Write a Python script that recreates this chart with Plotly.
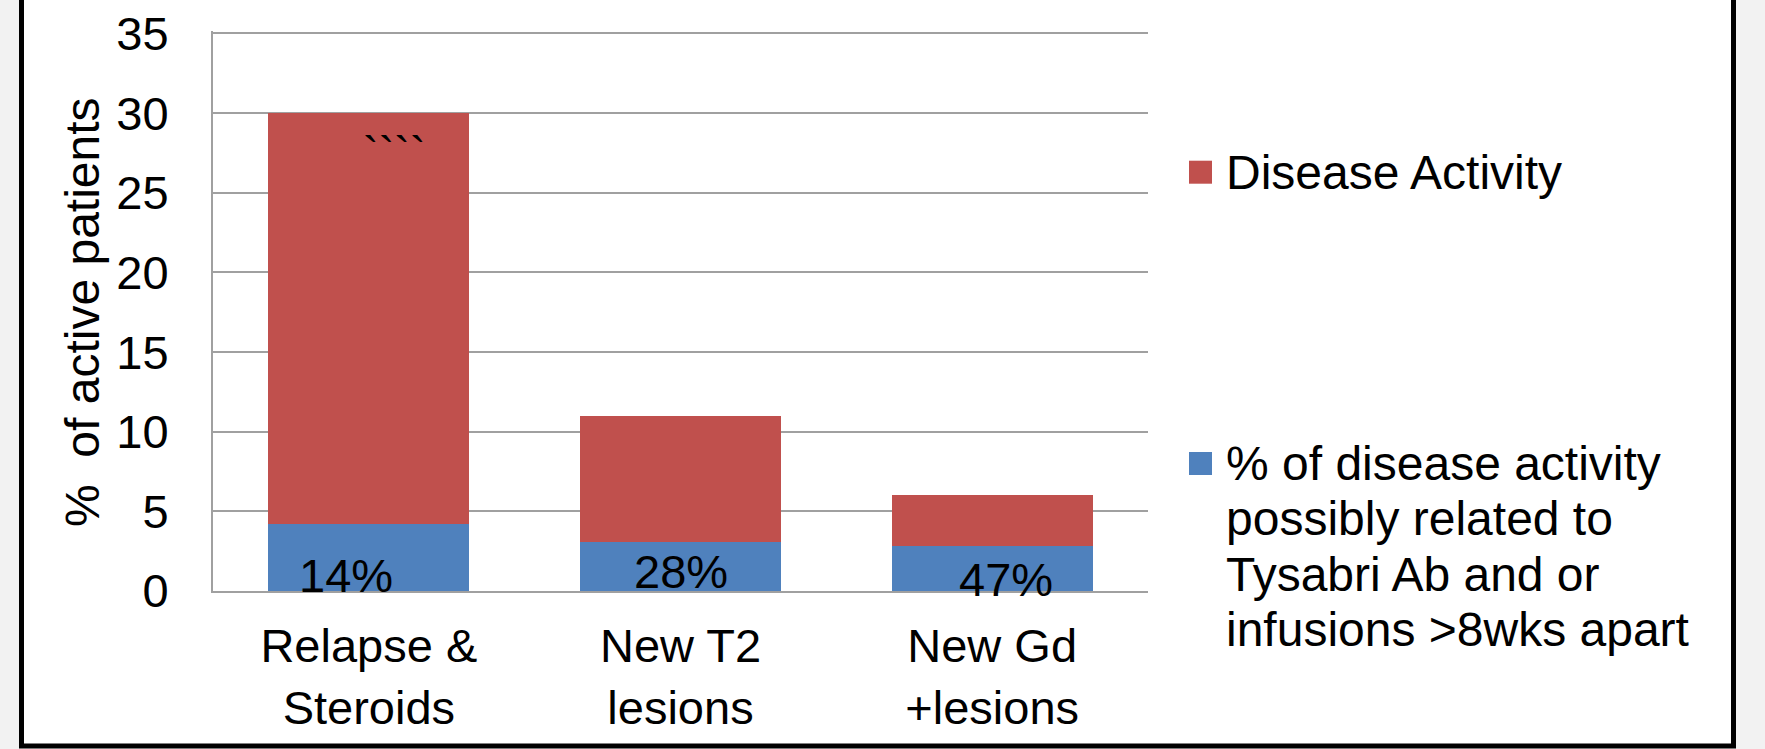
import plotly.graph_objects as go

# Categories and values
categories = ["Relapse &<br>Steroids", "New T2<br>lesions", "New Gd<br>+lesions"]
total_activity = [30, 11, 6]            # % of active patients
related_share = [14, 28, 47]            # % of that activity possibly related to Tysabri Ab / late infusions
share_labels = ["14%", "28%", "47%"]
y_ticks = [0, 5, 10, 15, 20, 25, 30, 35]

related = [t * s / 100 for t, s in zip(total_activity, related_share)]
remaining = [t - r for t, r in zip(total_activity, related)]

RED = "#C0504D"
BLUE = "#4F81BD"
GRID = "#A0A0A0"
FONT = "Liberation Sans, Arial, sans-serif"
FS = 47

W_FIG, H_FIG = 1765, 749
UNIT = 15.93                     # pixels per percentage point
L, R, B = 213, 1148, 591
T = 31
Y_MAX = (B - T) / UNIT           # a little headroom so the 35 gridline is kept


def px(x):
    return (x - L) / (R - L)


def py(y):
    return (B - y) / (B - T)


fig = go.Figure()
fig.add_trace(go.Bar(x=categories, y=related, marker=dict(color=BLUE, line=dict(width=0)),
                     name="related", showlegend=False, hoverinfo="skip"))
fig.add_trace(go.Bar(x=categories, y=remaining, marker=dict(color=RED, line=dict(width=0)),
                     name="Disease Activity", showlegend=False, hoverinfo="skip"))

annotations = []
# share labels inside the blue segments (hand-placed offsets)
x_shift = [-23, 0, 14]
base_above_axis = [0, 4, -4]
for cat, lab, dx, dy in zip(categories, share_labels, x_shift, base_above_axis):
    annotations.append(dict(x=cat, y=0, xref="x", yref="y", text=lab, showarrow=False,
                            xanchor="center", yanchor="middle", xshift=dx, yshift=dy + 16,
                            font=dict(family=FONT, size=FS, color="black")))
# stray tick marks on the first bar
annotations.append(dict(x=categories[0], y=total_activity[0], xref="x", yref="y", text="````",
                        showarrow=False, xanchor="center", yanchor="middle", xshift=26, yshift=-39,
                        font=dict(family=FONT, size=FS, color="black")))

# y-axis title
annotations.append(dict(x=px(82), y=py(312), xref="paper", yref="paper",
                        text="%\u00a0 of active patients", textangle=-90, showarrow=False,
                        xanchor="center", yanchor="middle",
                        font=dict(family=FONT, size=48, color="black")))

# legend drawn by hand
legend_rows = [
    (RED, ["Disease Activity"], 188.7),
    (BLUE, ["% of disease activity", "possibly related to", "Tysabri Ab and or",
            "infusions >8wks apart"], 480),
]
shapes = [
    # white card with black frame
    dict(type="rect", xref="paper", yref="paper", x0=px(21.5), x1=px(1733.5), y0=py(746), y1=py(-30),
         fillcolor="white", line=dict(color="black", width=5), layer="below"),
]
for color, lines, first_base in legend_rows:
    sq_c = first_base - 16.5
    shapes.append(dict(type="rect", xref="paper", yref="paper", x0=px(1189), x1=px(1212),
                       y0=py(sq_c + 11.5), y1=py(sq_c - 11.5), fillcolor=color,
                       line=dict(width=0), layer="above"))
    for i, line in enumerate(lines):
        base = first_base + i * 55.3
        annotations.append(dict(x=px(1224), y=py(base - 16.6), xref="paper", yref="paper", text=line,
                                showarrow=False, xanchor="left", yanchor="middle",
                                font=dict(family=FONT, size=48, color="black")))

fig.update_layout(
    width=W_FIG, height=H_FIG,
    margin=dict(l=L, r=W_FIG - R, t=T, b=H_FIG - B, pad=0, autoexpand=False),
    paper_bgcolor="#F2F2F2", plot_bgcolor="white",
    barmode="stack", bargap=0.355,
    showlegend=False,
    font=dict(family=FONT, size=FS, color="black"),
    shapes=shapes, annotations=annotations,
)
fig.update_xaxes(showline=True, linecolor=GRID, linewidth=2, ticks="", showgrid=False, automargin=False,
                 tickfont=dict(family=FONT, size=FS, color="black"), ticklabelstandoff=13)
fig.update_yaxes(range=[0, Y_MAX], tickvals=y_ticks, showline=True, linecolor=GRID, linewidth=2,
                 gridcolor=GRID, gridwidth=2, zeroline=False, ticks="", automargin=False,
                 tickfont=dict(family=FONT, size=FS, color="black"), ticklabelstandoff=33)

fig.write_html("out.html")
